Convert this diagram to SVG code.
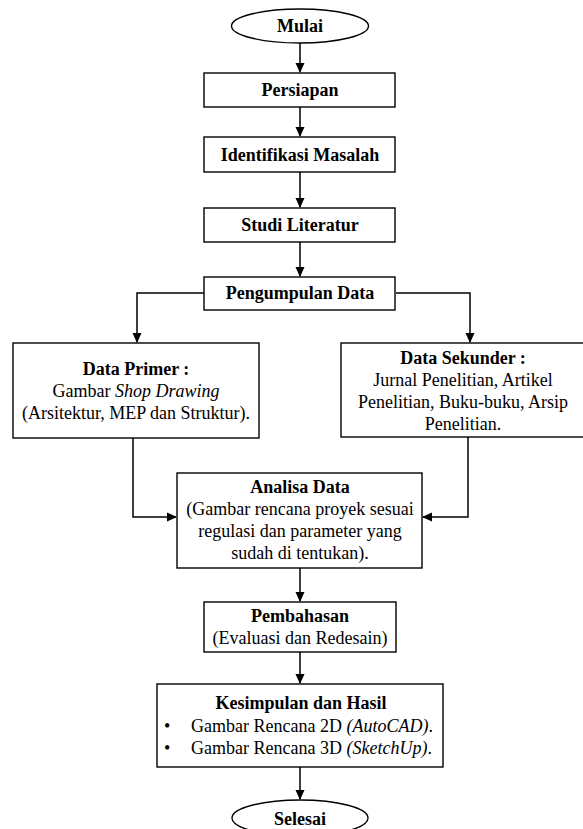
<svg xmlns="http://www.w3.org/2000/svg" width="583" height="829" viewBox="0 0 583 829">
<defs>
<marker id="arr" markerWidth="10" markerHeight="10" refX="9" refY="5" orient="auto" markerUnits="userSpaceOnUse" viewBox="0 0 10 10">
<path d="M0,0.5 L10,5 L0,9.5 Z" fill="#000"/>
</marker>
<style>
.box{fill:#fff;stroke:#000;stroke-width:1.4}
.t{font-family:"Liberation Serif","Times New Roman",serif;font-size:18px;fill:#000}
.b{font-weight:bold}
.c{text-anchor:middle}
.i{font-style:italic}
.con{fill:none;stroke:#000;stroke-width:1.5}
</style>
</defs>
<rect width="583" height="829" fill="#fff"/>
<g id="connectors">
<path class="con" d="M300,43 V72" marker-end="url(#arr)"/>
<path class="con" d="M300,107 V136" marker-end="url(#arr)"/>
<path class="con" d="M300,172 V207" marker-end="url(#arr)"/>
<path class="con" d="M300,242 V276" marker-end="url(#arr)"/>
<path class="con" d="M204,293 H137 V342" marker-end="url(#arr)"/>
<path class="con" d="M396,293 H470 V342" marker-end="url(#arr)"/>
<path class="con" d="M133,438 V517 H176" marker-end="url(#arr)"/>
<path class="con" d="M468,437 V517 H423" marker-end="url(#arr)"/>
<path class="con" d="M300,568 V601" marker-end="url(#arr)"/>
<path class="con" d="M300,652 V683" marker-end="url(#arr)"/>
<path class="con" d="M300,767 V799" marker-end="url(#arr)"/>
</g>
<g id="mulai">
<ellipse class="box" cx="300" cy="26" rx="68.5" ry="17"/>
<text class="t b c" x="300" y="32">Mulai</text>
</g>
<g id="persiapan">
<rect class="box" x="204" y="73" width="191" height="34"/>
<text class="t b c" x="300" y="96">Persiapan</text>
</g>
<g id="identifikasi">
<rect class="box" x="204" y="137" width="191" height="35"/>
<text class="t b c" x="300" y="161">Identifikasi Masalah</text>
</g>
<g id="studi">
<rect class="box" x="204" y="208" width="191" height="34"/>
<text class="t b c" x="300" y="231">Studi Literatur</text>
</g>
<g id="pengumpulan">
<rect class="box" x="204" y="277" width="191" height="33"/>
<text class="t b c" x="300" y="299">Pengumpulan Data</text>
</g>
<g id="data-primer">
<rect class="box" x="13" y="343" width="246" height="95"/>
<text class="t b c" x="136" y="375">Data Primer :</text>
<text class="t c" x="136" y="397">Gambar <tspan class="i">Shop Drawing</tspan></text>
<text class="t c" x="136" y="419">(Arsitektur, MEP dan Struktur).</text>
</g>
<g id="data-sekunder">
<rect class="box" x="341" y="343" width="244" height="94"/>
<text class="t b c" x="463" y="364">Data Sekunder :</text>
<text class="t c" x="463" y="386">Jurnal Penelitian, Artikel</text>
<text class="t c" x="463" y="408">Penelitian, Buku-buku, Arsip</text>
<text class="t c" x="463" y="430">Penelitian.</text>
</g>
<g id="analisa">
<rect class="box" x="177" y="473" width="245" height="95"/>
<text class="t b c" x="300" y="493">Analisa Data</text>
<text class="t c" x="300" y="515">(Gambar rencana proyek sesuai</text>
<text class="t c" x="300" y="537">regulasi dan parameter yang</text>
<text class="t c" x="300" y="559">sudah di tentukan).</text>
</g>
<g id="pembahasan">
<rect class="box" x="204" y="602" width="192" height="50"/>
<text class="t b c" x="300" y="622">Pembahasan</text>
<text class="t c" x="300" y="644">(Evaluasi dan Redesain)</text>
</g>
<g id="kesimpulan">
<rect class="box" x="157" y="684" width="286" height="83"/>
<text class="t b c" x="301" y="709">Kesimpulan dan Hasil</text>
<text class="t" x="164" y="732">•</text>
<text class="t" x="191" y="732">Gambar Rencana 2D <tspan class="i">(AutoCAD)</tspan>.</text>
<text class="t" x="164" y="754">•</text>
<text class="t" x="191" y="754">Gambar Rencana 3D <tspan class="i">(SketchUp)</tspan>.</text>
</g>
<g id="selesai">
<ellipse class="box" cx="300" cy="818" rx="68" ry="18"/>
<text class="t b c" x="300" y="825">Selesai</text>
</g>
</svg>
